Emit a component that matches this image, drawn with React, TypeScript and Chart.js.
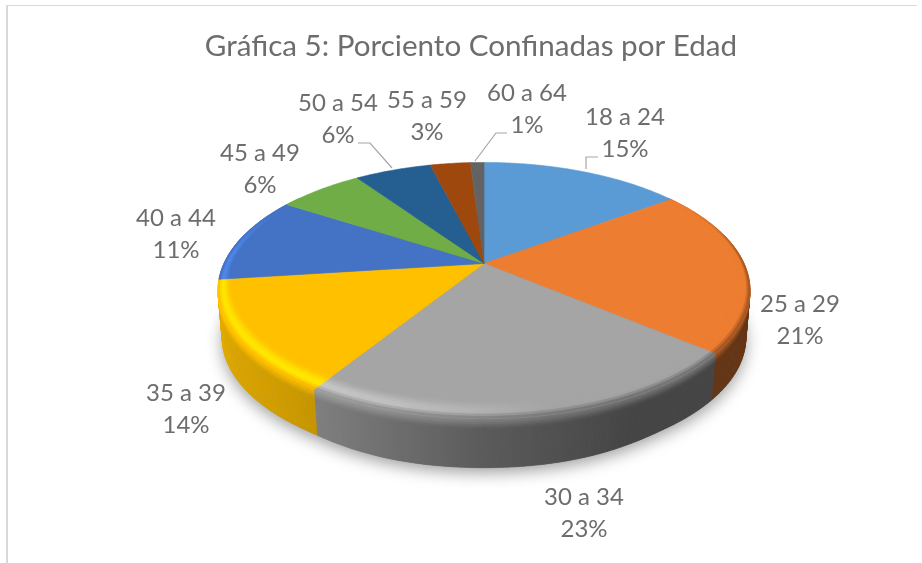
import React, { useEffect, useRef } from "react";
import { Chart, registerables } from "chart.js";

Chart.register(...registerables);

const categories = ["18 a 24", "25 a 29", "30 a 34", "35 a 39", "40 a 44", "45 a 49", "50 a 54", "55 a 59", "60 a 64"];
const shares = [15, 21, 23, 14, 11, 6.3, 5.7, 3, 1];
const percentLabels = ["15%", "21%", "23%", "14%", "11%", "6%", "6%", "3%", "1%"];
const colors = ["#5B9BD5", "#ED7D31", "#A5A5A5", "#FFC000", "#4472C4", "#70AD47", "#255E91", "#9E480E", "#636363"];

const TEXT = "#6d6d6d";
const FONT = "Lato, 'Open Sans', sans-serif";

// perspective projection of the pie disc onto the page
const CX = 484, CY = 263.5, R = 260, PA = 66.8, PC = -0.211, LOWER = 0.985;
const project = (u: number, v: number) => {
  const d = 1 + PC * v;
  return { x: CX + (R * u) / d, y: (PA * v + CY) / d };
};
const top = (a: number, r = 1) => project(r * Math.cos(a), r * Math.sin(a));
const smooth = (t: number) => {
  const k = Math.max(0, Math.min(1, t));
  return k * k * (3 - 2 * k);
};
const lerp = (a: number, b: number, t: number) => a + (b - a) * t;
const depthAt = (v: number) => 48 + 4 * smooth((v - 0.8) / 0.2);
const low = (a: number) => {
  const p = project(LOWER * Math.cos(a), LOWER * Math.sin(a));
  return { x: p.x, y: p.y + depthAt(Math.sin(a)) };
};
const wall = (a: number, s: number) => {
  const p = top(a);
  const q = low(a);
  return { x: lerp(p.x, q.x, s), y: lerp(p.y, q.y, s) };
};

const labelAnchors = [
  [625, 117], [800, 304], [584, 497], [186, 393], [176, 218], [260, 153], [338, 103], [427, 100], [527, 93],
];
const leaders = [
  [[598, 157], [586, 157], [586, 169]],
  [[358, 143], [370, 143], [392, 168]],
  [[507, 133], [496, 133], [475, 161]],
];

const hexRgb = (h: string) => [1, 3, 5].map((i) => parseInt(h.slice(i, i + 2), 16));
const shade = (rgb: number[], f: number) =>
  `rgb(${rgb.map((c) => Math.max(0, Math.min(255, Math.round(c * f)))).join(",")})`;
const piecewise = (x: number, pts: number[][]) => {
  if (x <= pts[0][0]) return pts[0][1];
  for (let i = 1; i < pts.length; i++) {
    if (x <= pts[i][0]) return lerp(pts[i - 1][1], pts[i][1], (x - pts[i - 1][0]) / (pts[i][0] - pts[i - 1][0]));
  }
  return pts[pts.length - 1][1];
};
const sideFactor = (u: number) => piecewise(u, [[-1, 0.9], [-0.6, 0.8], [0, 0.55], [0.45, 0.42], [1, 0.42]]);
const glow = (u: number) => piecewise(u, [[-1, 0.2], [-0.6, 0.22], [-0.3, 0.17], [0, 0.08], [0.2, 0], [1, 0]]);

const quad = (ctx: CanvasRenderingContext2D, pts: { x: number; y: number }[], color: string) => {
  ctx.fillStyle = color;
  ctx.strokeStyle = color;
  ctx.lineWidth = 0.6;
  ctx.beginPath();
  pts.forEach((p, i) => (i ? ctx.lineTo(p.x, p.y) : ctx.moveTo(p.x, p.y)));
  ctx.closePath();
  ctx.fill();
  ctx.stroke();
};

const pie3d = {
  id: "pie3d",
  beforeDraw(chart: any) {
    const ctx = chart.ctx;
    ctx.save();
    ctx.fillStyle = "#ffffff";
    ctx.fillRect(0, 0, chart.width, chart.height);
    ctx.fillStyle = "#d9d9d9";
    ctx.fillRect(6, 5, 2, chart.height - 5);
    ctx.fillRect(6, 5, 911, 1);
    ctx.restore();
  },
  beforeDatasetsDraw(chart: any) {
    const ctx: CanvasRenderingContext2D = chart.ctx;
    const arcs = chart.getDatasetMeta(0).data.map((el: any, i: number) => {
      const p = el.getProps(["startAngle", "endAngle"], true);
      return { a0: p.startAngle, a1: p.endAngle, rgb: hexRgb(colors[i]), color: colors[i] };
    });
    const STEP = Math.PI / 240;
    ctx.save();

    // soft drop shadow under the body
    ctx.save();
    ctx.shadowColor = "rgba(0,0,0,0.38)";
    ctx.shadowBlur = 16;
    ctx.shadowOffsetY = 5;
    ctx.fillStyle = "#777";
    ctx.beginPath();
    for (let a = 0; a <= Math.PI * 2 + 0.001; a += STEP) {
      const p = low(a);
      if (a === 0) ctx.moveTo(p.x, p.y);
      else ctx.lineTo(p.x, p.y);
    }
    ctx.closePath();
    ctx.fill();
    ctx.restore();

    // rim level reached by the bevel, where it meets the side wall
    const rimFactor = (u: number, w: number) => {
      const side = sideFactor(u);
      const mid = lerp(1 + glow(u) * 0.75, side, 0.55);
      return lerp(1, mid, w);
    };

    // side wall, back to front
    const pieces: { a: number; b: number; rgb: number[] }[] = [];
    for (const arc of arcs) {
      const n = Math.max(1, Math.ceil((arc.a1 - arc.a0) / STEP));
      for (let i = 0; i < n; i++) {
        const a = lerp(arc.a0, arc.a1, i / n);
        const b = lerp(arc.a0, arc.a1, (i + 1) / n);
        if (Math.sin((a + b) / 2) > -0.25) pieces.push({ a, b, rgb: arc.rgb });
      }
    }
    pieces.sort((p, q) => Math.sin((p.a + p.b) / 2) - Math.sin((q.a + q.b) / 2));
    const WALL_BANDS = 6;
    const FADE = 0.24;
    for (const p of pieces) {
      const mid = (p.a + p.b) / 2;
      const u = Math.cos(mid);
      const side = sideFactor(u);
      quad(ctx, [wall(p.a, FADE), wall(p.b, FADE), low(p.b), low(p.a)], shade(p.rgb, side));
      const rim = rimFactor(u, 1);
      for (let k = 0; k < WALL_BANDS; k++) {
        const s0 = (k / WALL_BANDS) * FADE;
        const s1 = ((k + 1) / WALL_BANDS) * FADE;
        const f = lerp(rim, side, smooth((k + 0.5) / WALL_BANDS));
        quad(ctx, [wall(p.a, s0), wall(p.b, s0), wall(p.b, s1), wall(p.a, s1)], shade(p.rgb, f));
      }
    }

    // top face wedges
    for (const arc of arcs) {
      const n = Math.max(2, Math.ceil((arc.a1 - arc.a0) / STEP));
      const pts = [project(0, 0)];
      for (let i = 0; i <= n; i++) pts.push(top(lerp(arc.a0, arc.a1, i / n)));
      quad(ctx, pts, arc.color);
    }

    // rounded bevel along the rim
    const BANDS = 8;
    const INNER = 0.9;
    for (const arc of arcs) {
      const n = Math.max(1, Math.ceil((arc.a1 - arc.a0) / STEP));
      for (let i = 0; i < n; i++) {
        const a = lerp(arc.a0, arc.a1, i / n);
        const b = lerp(arc.a0, arc.a1, (i + 1) / n);
        const mid = (a + b) / 2;
        const u = Math.cos(mid);
        const v = Math.sin(mid);
        const w = smooth((v + 0.6) / 0.6);
        if (w <= 0) continue;
        const inner = 1 - (1 - INNER) * lerp(0.35, 1, Math.max(0, v));
        for (let k = 0; k < BANDS; k++) {
          const t0 = k / BANDS;
          const t1 = (k + 1) / BANDS;
          const t = (t0 + t1) / 2;
          const h = glow(u);
          const end = rimFactor(u, w);
          const f =
            t < 0.65 ? lerp(1, 1 + h * w, smooth(t / 0.65)) : lerp(1 + h * w, end, smooth((t - 0.65) / 0.35));
          const r0 = lerp(inner, 1, t0);
          const r1 = lerp(inner, 1, t1);
          quad(ctx, [top(a, r0), top(b, r0), top(b, r1), top(a, r1)], shade(arc.rgb, f));
        }
      }
    }
    ctx.restore();
    return false;
  },
  afterDraw(chart: any) {
    const ctx: CanvasRenderingContext2D = chart.ctx;
    ctx.save();
    ctx.font = `24px ${FONT}`;
    ctx.fillStyle = TEXT;
    ctx.textAlign = "center";
    ctx.textBaseline = "middle";
    categories.forEach((c, i) => {
      const [x, y] = labelAnchors[i];
      ctx.fillText(c, x, y);
      ctx.fillText(percentLabels[i], x, y + 32.5);
    });
    ctx.strokeStyle = "#a6a6a6";
    ctx.lineWidth = 1.2;
    leaders.forEach((l) => {
      ctx.beginPath();
      l.forEach(([x, y], i) => (i ? ctx.lineTo(x, y) : ctx.moveTo(x, y)));
      ctx.stroke();
    });
    ctx.restore();
  },
};

export default function App() {
  const ref = useRef<HTMLCanvasElement>(null);
  useEffect(() => {
    document.body.style.margin = "0";
    const chart = new Chart(ref.current!, {
      type: "pie",
      data: {
        labels: categories,
        datasets: [{ data: shares, backgroundColor: colors, borderWidth: 0 }],
      },
      options: {
        responsive: false,
        animation: false,
        layout: { padding: { left: 20 } },
        plugins: {
          legend: { display: false },
          tooltip: { enabled: false },
          title: {
            display: true,
            text: "Gráfica 5: Porciento Confinadas por Edad",
            color: TEXT,
            font: { family: FONT, size: 29.6, weight: "normal" },
            padding: { top: 29, bottom: 10 },
          },
        },
      },
      plugins: [pie3d],
    } as any);
    return () => chart.destroy();
  }, []);
  return <canvas ref={ref} width={922} height={563} style={{ display: "block" }} />;
}
